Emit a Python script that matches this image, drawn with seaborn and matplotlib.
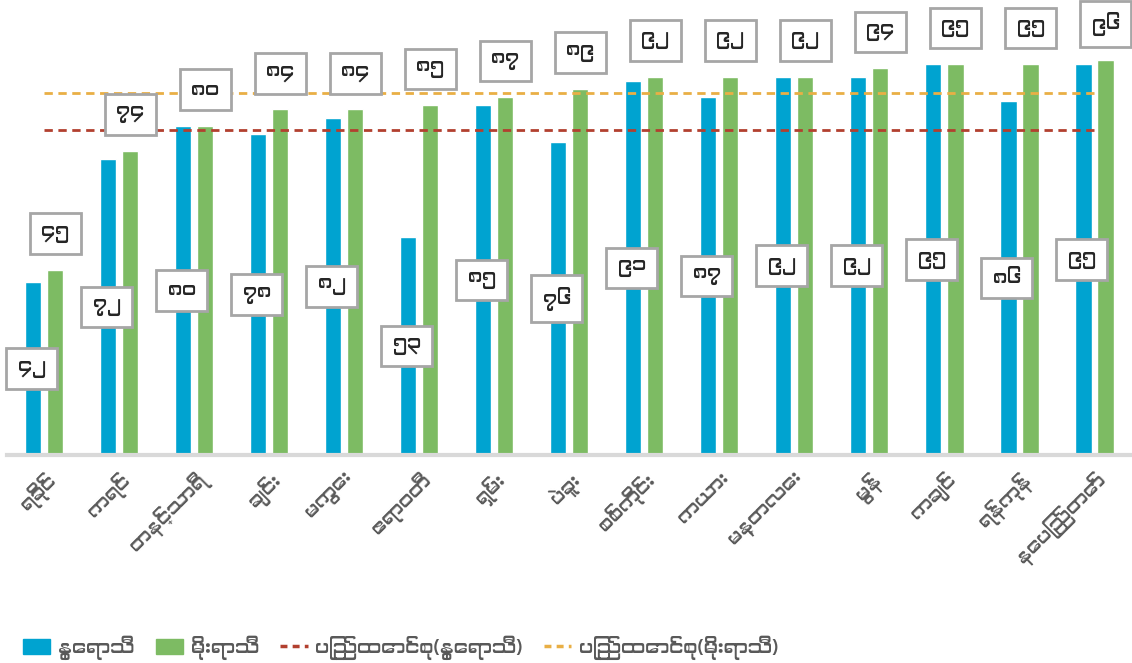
import numpy as np
import pandas as pd
import seaborn as sns
import matplotlib
matplotlib.use("Agg")
import matplotlib.pyplot as plt
from matplotlib import font_manager
from matplotlib.ft2font import FT2Font
from matplotlib.patches import Patch
from matplotlib.lines import Line2D

# Data
regions = ["ရခိုင်", "ကရင်", "တနင်္သာရီ", "ချင်း", "မကွေး", "ဧရာဝတီ", "ရှမ်း", "ပဲခူး",
           "စစ်ကိုင်း", "ကယား", "မန္တလေး", "မွန်", "ကချင်", "ရန်ကုန်", "နေပြည်တော်"]
summer = [42, 72, 80, 78, 82, 53, 85, 76, 91, 87, 92, 92, 95, 86, 95]
rainy = [45, 74, 80, 84, 84, 85, 87, 89, 92, 92, 92, 94, 95, 95, 96]
union_summer = 79
union_rainy = 88

series_names = ["နွေရာသီ", "မိုးရာသီ"]
line_names = ["ပြည်ထောင်စု(နွေရာသီ)", "ပြည်ထောင်စု(မိုးရာသီ)"]

blue = "#00A3D0"
green = "#7DBB63"
red = "#B2402F"
orange = "#E9AF45"
text_gray = "#595959"


def find_myanmar_font():
    # look for any installed font that has Myanmar glyphs
    cands = sorted(font_manager.fontManager.ttflist,
                   key=lambda f: 0 if ("Myanmar" in f.name or "Padauk" in f.name) else 1)
    for f in cands:
        try:
            if 0x1000 in FT2Font(f.fname).get_charmap():
                return f.name
        except Exception:
            pass
    return None


def mm_digits(n):
    return str(n).translate(str.maketrans("0123456789", "၀၁၂၃၄၅၆၇၈၉"))


sns.set_theme(style="white")
mm_font = find_myanmar_font()
plt.rcParams["font.family"] = [mm_font, "DejaVu Sans"] if mm_font else ["DejaVu Sans"]

df = pd.DataFrame({
    "region": regions * 2,
    "value": summer + rainy,
    "season": [series_names[0]] * len(regions) + [series_names[1]] * len(regions),
})

fig = plt.figure(figsize=(11.32, 6.63), dpi=100)
ax = fig.add_axes([0.006, 1 - 455 / 663, 0.994, 455 / 663])

sns.barplot(data=df, x="region", y="value", hue="season", palette=[blue, green],
            width=0.587, gap=0.27, ax=ax, legend=False, saturation=1)

x = np.arange(len(regions))
ax.plot(x, [union_summer] * len(x), color=red, lw=2, ls=(0, (3, 2)))
ax.plot(x, [union_rainy] * len(x), color=orange, lw=2, ls=(0, (3, 2)))

box = dict(boxstyle="square,pad=0.58", fc="white", ec="#A6A6A6", lw=2)
for i, (s, r) in enumerate(zip(summer, rainy)):
    ax.annotate(mm_digits(s), (i - 0.17, s / 2), ha="center", va="center",
                fontsize=14, color="#262626", bbox=box, annotation_clip=False)
    ax.annotate(mm_digits(r), (i + 0.147, r), xytext=(0, 26), textcoords="offset points",
                ha="center", va="center", fontsize=14, color="#262626", bbox=box,
                annotation_clip=False)

ax.set_xlim(-0.5, len(regions) - 0.5)
ax.set_ylim(0, 110.6)
ax.set_xlabel("")
ax.set_ylabel("")
ax.set_yticks([])
ax.tick_params(axis="x", length=0, pad=10, labelsize=14, labelcolor=text_gray)
for lab in ax.get_xticklabels():
    lab.set_rotation(45)
    lab.set_ha("right")
    lab.set_rotation_mode("anchor")

for side in ["top", "left", "right"]:
    ax.spines[side].set_visible(False)
ax.spines["bottom"].set_color("#D9D9D9")
ax.spines["bottom"].set_linewidth(3)

handles = [
    Patch(color=blue), Patch(color=green),
    Line2D([], [], color=red, lw=2.5, ls=(0, (2, 1.5))),
    Line2D([], [], color=orange, lw=2.5, ls=(0, (2, 1.5))),
]
fig.legend(handles, series_names + line_names, loc="lower left", bbox_to_anchor=(0.005, -0.022),
           ncol=4, frameon=False, fontsize=14, labelcolor=text_gray,
           handlelength=1.4, handleheight=0.8, columnspacing=1.1, handletextpad=0.4)

fig.savefig("out.png", dpi=100)
